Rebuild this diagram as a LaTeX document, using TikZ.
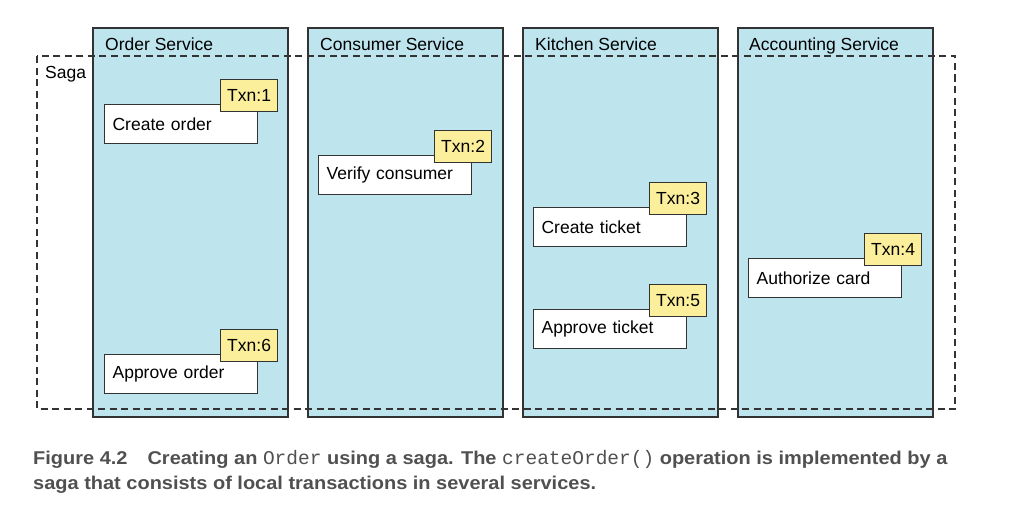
\documentclass[tikz,border=0pt]{standalone}
\usepackage{fontspec}
\setmainfont{Liberation Sans}
\newfontfamily\capfont[FakeStretch=1.08]{Liberation Sans}
\newfontfamily\capmono{Liberation Mono}
\usetikzlibrary{positioning}
\definecolor{svcblue}{RGB}{190,228,238}
\definecolor{txnyellow}{RGB}{252,239,155}
\definecolor{linegray}{RGB}{51,51,51}
\definecolor{capgray}{RGB}{80,80,80}
\newcommand{\capcode}[1]{{\capmono\mdseries\fontsize{19.5}{22}\selectfont #1}}
\begin{document}
\begin{tikzpicture}[x=1pt,y=-1pt,
    service/.style={draw=linegray,line width=1.2pt,fill=svcblue},
    stepbox/.style={draw=linegray,line width=1.2pt,fill=white,anchor=north west,
        minimum width=153pt,minimum height=39pt,text width=137pt,align=left,
        inner sep=8pt,font=\fontsize{17.5}{20}\selectfont},
    txn/.style={draw=linegray,line width=1.2pt,fill=txnyellow,anchor=south east,
        minimum width=57pt,minimum height=32pt,inner sep=2pt,
        font=\fontsize{17.5}{20}\selectfont},
    title/.style={anchor=base west,inner sep=0pt,font=\fontsize{17.5}{20}\selectfont},
    caption/.style={anchor=base west,inner sep=0pt,text=capgray,
        font=\capfont\bfseries\fontsize{18.5}{22}\selectfont},
    sagaline/.style={draw=linegray,line width=1.2pt,dash pattern=on 7pt off 4.5pt}]
\useasboundingbox (0,0) rectangle (1023,506);
% services
\draw[service] (93,28) rectangle (288,417);
\draw[service] (308,28) rectangle (503,417);
\draw[service] (523,28) rectangle (718,417);
\draw[service] (738,28) rectangle (933,417);
\node[title] (order) at (105,50) {Order Service};
\node[title] (consumer) at (320,50) {Consumer Service};
\node[title] (kitchen) at (535,50) {Kitchen Service};
\node[title] (accounting) at (749,50) {Accounting Service};
% saga
\draw[sagaline] (37,56) rectangle (955,409);
\node[title] (saga) at (45,78) {Saga};
% local transactions
\node[stepbox] (createorder) at (104,104) {Create order};
\node[txn] (t1) at ([xshift=20pt,yshift=-8pt]createorder.north east) {Txn:1};
\node[stepbox] (verify) at (318,155) {Verify consumer};
\node[txn] (t2) at ([xshift=20pt,yshift=-8pt]verify.north east) {Txn:2};
\node[stepbox] (createticket) at (533,207) {Create ticket};
\node[txn] (t3) at ([xshift=20pt,yshift=-8pt]createticket.north east) {Txn:3};
\node[stepbox] (authorize) at (748,258) {Authorize card};
\node[txn] (t4) at ([xshift=20pt,yshift=-8pt]authorize.north east) {Txn:4};
\node[stepbox] (approveticket) at (533,309) {Approve ticket};
\node[txn] (t5) at ([xshift=20pt,yshift=-8pt]approveticket.north east) {Txn:5};
\node[stepbox] (approveorder) at (104,354) {Approve order};
\node[txn] (t6) at ([xshift=20pt,yshift=-8pt]approveorder.north east) {Txn:6};
% caption
\node[caption] (cap1) at (33,464) {Figure 4.2\hspace{20pt}Creating an \capcode{Order} using a saga. The \capcode{createOrder()} operation is implemented by a};
\node[caption] (cap2) at (33,489) {saga that consists of local transactions in several services.};
\end{tikzpicture}
\end{document}
